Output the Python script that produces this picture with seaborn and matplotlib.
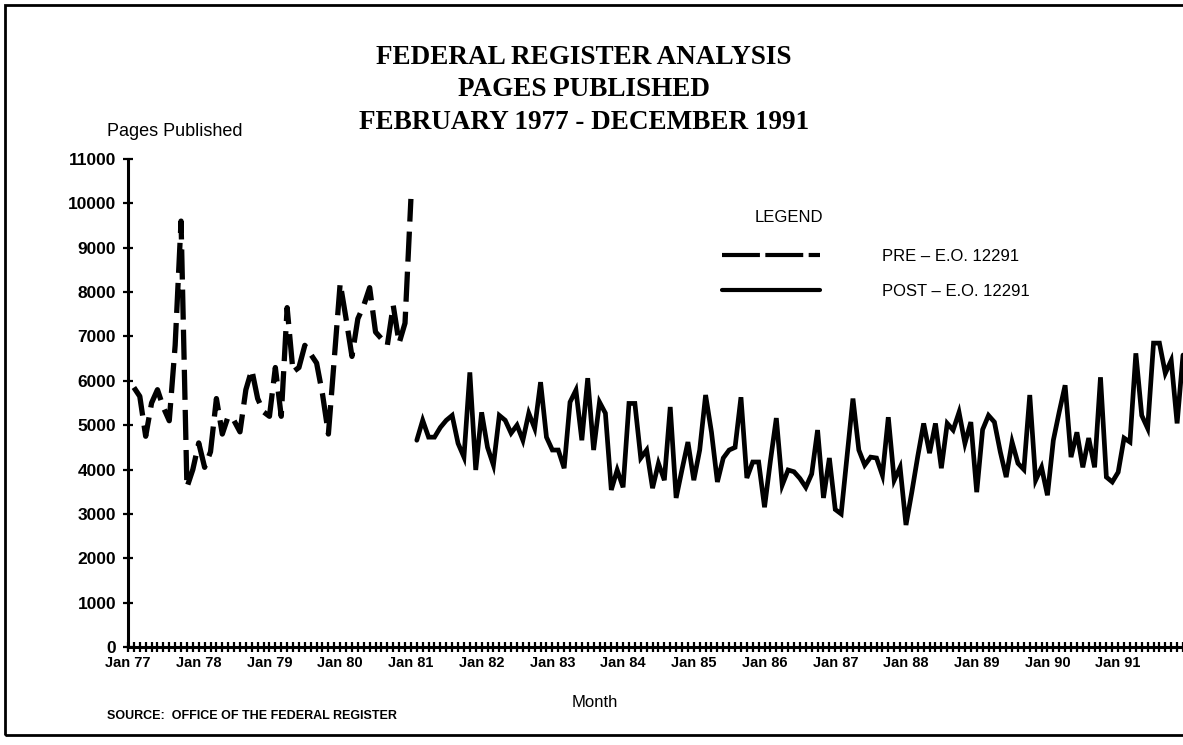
import matplotlib
matplotlib.use("Agg")
import matplotlib.pyplot as plt
import seaborn as sns
import numpy as np
import pandas as pd
from matplotlib.lines import Line2D
from matplotlib.patches import Rectangle
from matplotlib.ticker import MultipleLocator

# monthly pages published, Feb 77 - Jan 81 (before E.O. 12291)
pre_pages = [
    5850, 5650, 4750, 5500, 5800, 5400, 5100, 6800, 9600, 3600, 4000,
    4600, 4050, 4400, 5600, 4800, 5200, 5100, 4850, 5800, 6250, 5600, 5300,
    5200, 6300, 5200, 7650, 6200, 6300, 6800, 6600, 6400, 5700, 4800, 6500,
    8200, 7400, 6550, 7400, 7700, 8100, 7100, 6950, 6800, 7700, 6850, 7300,
    10100,
]
# Feb 81 - Dec 91 (after E.O. 12291)
post_pages = [
    4660, 5110, 4730, 4730, 4950, 5110, 5220, 4590, 4280, 6190, 3990,
    5290, 4500, 4100, 5220, 5110, 4820, 5000, 4660, 5270, 4930, 5970, 4730,
    4440, 4440, 4030, 5520, 5790, 4660, 6060, 4440, 5520, 5270, 3540, 3990,
    3600, 5490, 5490, 4260, 4440, 3580, 4140, 3760, 5410, 3360, 4000, 4620,
    3760, 4440, 5680, 4840, 3720, 4260, 4440, 4500, 5630, 3810, 4170, 4170,
    3150, 4200, 5160, 3650, 3990, 3950, 3800, 3600, 3900, 4890, 3360, 4260,
    3100, 3000, 4300, 5600, 4440, 4100, 4280, 4260, 3870, 5180, 3760, 4050,
    2750, 3500, 4300, 5040, 4370, 5040, 4030, 5040, 4890, 5290, 4590, 5070,
    3490, 4900, 5220, 5070, 4400, 3830, 4620, 4140, 4000, 5680, 3760, 4050,
    3420, 4660, 5300, 5900, 4280, 4840, 4050, 4710, 4050, 6080, 3830, 3720,
    3940, 4710, 4620, 6620, 5220, 4930, 6850, 6850, 6170, 6460, 5040, 6580,
]
year_labels = ["Jan 77", "Jan 78", "Jan 79", "Jan 80", "Jan 81", "Jan 82",
               "Jan 83", "Jan 84", "Jan 85", "Jan 86", "Jan 87", "Jan 88",
               "Jan 89", "Jan 90", "Jan 91"]
legend_labels = ["PRE \u2013 E.O. 12291", "POST \u2013 E.O. 12291"]

# months counted from Jan 77
pre_df = pd.DataFrame({"month": np.arange(1, 1 + len(pre_pages)), "pages": pre_pages})
post_df = pd.DataFrame({"month": np.arange(1 + len(pre_pages), 1 + len(pre_pages) + len(post_pages)),
                        "pages": post_pages})

sns.set_style("white")
plt.rcParams["font.family"] = ["Liberation Sans", "DejaVu Sans"]
plt.rcParams["text.color"] = "black"
plt.rcParams["axes.labelcolor"] = "black"
plt.rcParams["xtick.color"] = "black"
plt.rcParams["ytick.color"] = "black"

fig = plt.figure(figsize=(11.83, 7.45), dpi=100)
ax = fig.add_axes([128 / 1183, 98 / 745, 1055 / 1183, 488 / 745])

sns.lineplot(data=pre_df, x="month", y="pages", ax=ax, color="black",
             lw=3.8, linestyle=(0, (5.7, 1.9)), dash_capstyle="butt")
sns.lineplot(data=post_df, x="month", y="pages", ax=ax, color="black",
             lw=3.4, solid_joinstyle="miter")

ax.set_xlim(0, 179)
ax.set_ylim(0, 11000)
ax.set_xticks(np.arange(0, 12 * len(year_labels), 12))
ax.set_xticklabels(year_labels, fontsize=10.5, fontweight="bold")
ax.xaxis.set_minor_locator(MultipleLocator(1))
ax.set_yticks(np.arange(0, 11001, 1000))
ax.set_yticklabels([str(v) for v in range(0, 11001, 1000)], fontsize=12.5,
                   fontweight="bold")
ax.tick_params(axis="x", which="both", bottom=True, direction="inout", length=7,
               width=1.6, color="black", pad=3)
ax.tick_params(axis="y", left=True, direction="inout", length=7, width=1.6,
               color="black", pad=5)

for side in ["top", "right"]:
    ax.spines[side].set_visible(False)
for side in ["left", "bottom"]:
    ax.spines[side].set_linewidth(2.2)
    ax.spines[side].set_color("black")

ax.set_xlabel("Month", fontsize=12)
ax.xaxis.set_label_coords(467 / 1055, -48 / 488)
ax.set_ylabel("Pages Published", fontsize=13, rotation=0, ha="left", va="center")
ax.yaxis.set_label_coords(-21 / 1055, 516 / 488)

fig.text(584 / 1183, (745 - 90) / 745,
         "FEDERAL REGISTER ANALYSIS\nPAGES PUBLISHED\nFEBRUARY 1977 - DECEMBER 1991",
         ha="center", va="center", fontsize=19.5, fontweight="bold",
         family=["Liberation Serif", "DejaVu Serif"], linespacing=1.4)

fig.text(789 / 1183, (745 - 218) / 745, "LEGEND", ha="center", va="center", fontsize=12)
handles = [Line2D([], [], color="black", lw=3, linestyle=(0, (9.1, 1.3)), dash_capstyle="butt"),
           Line2D([], [], color="black", lw=3)]
ax.legend(handles, legend_labels, loc="upper left", bbox_to_anchor=(722 / 1183, (745 - 249) / 745),
          bbox_transform=fig.transFigure, frameon=False, fontsize=12, handlelength=5.9,
          handletextpad=3.7, labelspacing=1.2, borderpad=0, borderaxespad=0)

fig.text(107 / 1183, (745 - 716) / 745, "SOURCE:  OFFICE OF THE FEDERAL REGISTER",
         ha="left", va="center", fontsize=9, fontweight="bold")

fig.patches.append(Rectangle((5 / 1183, 10 / 745), 1.2, 730 / 745, transform=fig.transFigure,
                             fill=False, lw=2, edgecolor="black"))

fig.savefig("out.png", dpi=100)
